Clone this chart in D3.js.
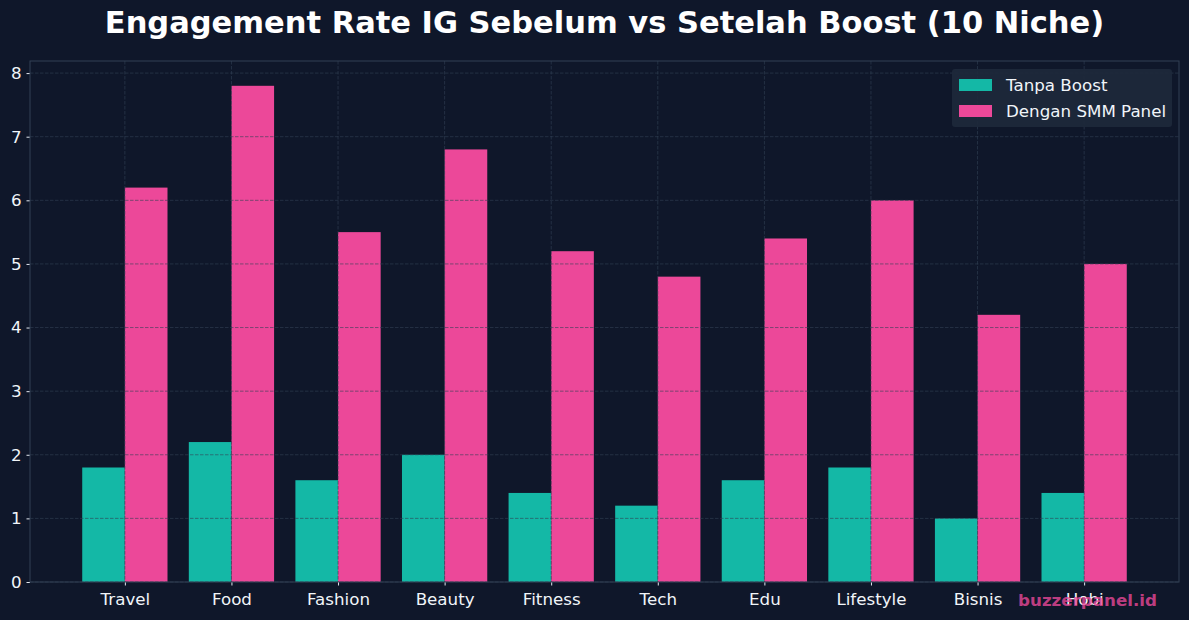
<!DOCTYPE html>
<html>
<head>
<meta charset="utf-8">
<script src="https://cdn.jsdelivr.net/npm/d3@7"></script>
<style>
body { margin: 0; background: #0f172a; }
text { font-family: "DejaVu Sans", sans-serif; }
</style>
</head>
<body>
<div id="chart"></div>
<script>
var categories = ["Travel", "Food", "Fashion", "Beauty", "Fitness", "Tech", "Edu", "Lifestyle", "Bisnis", "Hobi"];
var tanpaBoost = [1.8, 2.2, 1.6, 2.0, 1.4, 1.2, 1.6, 1.8, 1.0, 1.4];
var denganSmm = [6.2, 7.8, 5.5, 6.8, 5.2, 4.8, 5.4, 6.0, 4.2, 5.0];
var seriesNames = ["Tanpa Boost", "Dengan SMM Panel"];
var yTicks = [0, 1, 2, 3, 4, 5, 6, 7, 8];

var W = 1189, H = 620;
var margin = {top: 61, right: 10, bottom: 38, left: 30},
width = W - margin.left - margin.right,
height = H - margin.top - margin.bottom;

var colors = ["#14b8a6", "#ec4899"];
var barW = 0.4;

// matplotlib-like linear x over category index
var x = d3.scaleLinear()
.domain([-0.4 - 0.49, 9.4 + 0.49])
.range([0, width]);
var y = d3.scaleLinear()
.domain([0, 7.8 * 1.05])
.range([height, 0]);

var svg = d3.select("#chart").append("svg")
.attr("width", W)
.attr("height", H)
.style("background", "#0f172a");

svg.append("text")
.attr("x", W / 2 + 10)
.attr("y", 33)
.attr("text-anchor", "middle")
.attr("fill", "#ffffff")
.attr("font-weight", "bold")
.attr("font-size", "30.5px")
.text("Engagement Rate IG Sebelum vs Setelah Boost (10 Niche)");

var g = svg.append("g")
.attr("transform", "translate(" + margin.left + "," + margin.top + ")");

// bars
var series = [tanpaBoost, denganSmm];
series.forEach(function(vals, s) {
    g.selectAll(".bar" + s)
    .data(vals)
    .enter().append("rect")
    .attr("class", "bar" + s)
    .attr("x", function(d, i) { return x(i - barW + s * barW); })
    .attr("width", x(barW) - x(0))
    .attr("y", function(d) { return y(d); })
    .attr("height", function(d) { return height - y(d); })
    .attr("fill", colors[s]);
});

// grid on top of bars
var xAxis = d3.axisBottom(x)
.tickValues(d3.range(categories.length))
.tickFormat(function(d) { return categories[d]; })
.tickSize(3.5)
.tickPadding(8);
var yAxis = d3.axisLeft(y)
.tickValues(yTicks)
.tickSize(3.5)
.tickPadding(5);

g.append("g")
.selectAll("line.hg")
.data(yTicks)
.enter().append("line")
.attr("x1", 0).attr("x2", width)
.attr("y1", function(d) { return y(d); })
.attr("y2", function(d) { return y(d); })
.attr("stroke", "#334155")
.attr("stroke-opacity", 0.75)
.attr("stroke-dasharray", "3.5,1.5")
.attr("stroke-width", 0.8);

g.append("g")
.selectAll("line.vg")
.data(d3.range(categories.length))
.enter().append("line")
.attr("y1", 0).attr("y2", height)
.attr("x1", function(d) { return x(d); })
.attr("x2", function(d) { return x(d); })
.attr("stroke", "#334155")
.attr("stroke-opacity", 0.75)
.attr("stroke-dasharray", "3.5,1.5")
.attr("stroke-width", 0.8);

var gx = g.append("g")
.attr("transform", "translate(0," + height + ")")
.call(xAxis);
var gy = g.append("g")
.call(yAxis);

[gx, gy].forEach(function(a) {
    a.select(".domain").remove();
    a.selectAll(".tick line").attr("stroke", "#e2e8f0");
    a.selectAll(".tick text")
    .attr("fill", "#f1f5f9")
    .attr("font-size", "16.7px")
    .style("font-family", "DejaVu Sans, sans-serif");
});

// spines
g.append("rect")
.attr("x", 0).attr("y", 0)
.attr("width", width).attr("height", height)
.attr("fill", "none")
.attr("stroke", "#334155")
.attr("stroke-width", 1);

// legend
var lg = g.append("g")
.attr("transform", "translate(" + (width - 227) + ",8)");
lg.append("rect")
.attr("width", 220).attr("height", 58)
.attr("rx", 3)
.attr("fill", "#1e293b")
.attr("opacity", 0.9);
seriesNames.forEach(function(n, i) {
    lg.append("rect")
    .attr("x", 7).attr("y", 10 + i * 26)
    .attr("width", 33).attr("height", 12)
    .attr("fill", colors[i]);
    lg.append("text")
    .attr("x", 54).attr("y", 22 + i * 26)
    .attr("fill", "#f1f5f9")
    .attr("font-size", "16.7px")
    .text(n);
});

// watermark
svg.append("text")
.attr("x", 1157)
.attr("y", 606)
.attr("text-anchor", "end")
.attr("fill", "#ec4899")
.attr("fill-opacity", 0.8)
.attr("font-weight", "bold")
.attr("font-size", "16.7px")
.text("buzzerpanel.id");
</script>
</body>
</html>
